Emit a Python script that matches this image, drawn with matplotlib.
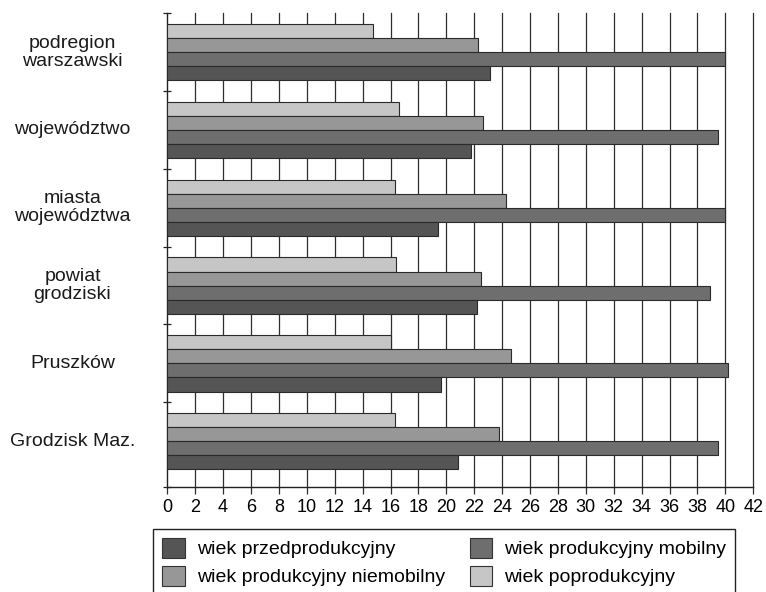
import matplotlib
matplotlib.use("Agg")
import matplotlib.pyplot as plt
import matplotlib.transforms as mtransforms
from matplotlib.patches import Patch
import numpy as np

plt.rcParams['font.family'] = ['Liberation Sans', 'DejaVu Sans']

categories = ["podregion\nwarszawski", "województwo", "miasta\nwojewództwa",
              "powiat\ngrodziski", "Pruszków", "Grodzisk Maz."]
series_names = ["wiek przedprodukcyjny", "wiek produkcyjny mobilny",
                "wiek produkcyjny niemobilny", "wiek poprodukcyjny"]
przedprodukcyjny = [23.1, 21.8, 19.4, 22.2, 19.6, 20.8]
produkcyjny_mobilny = [40.0, 39.5, 40.0, 38.9, 40.2, 39.5]
produkcyjny_niemobilny = [22.25, 22.6, 24.3, 22.5, 24.6, 23.8]
poprodukcyjny = [14.75, 16.6, 16.3, 16.4, 16.0, 16.3]
x_ticks = list(range(0, 43, 2))

colors = {
    "przed": "#555555",
    "mobil": "#6e6e6e",
    "niemob": "#979797",
    "popro": "#c6c6c6",
}

W, H = 766, 592
fig = plt.figure(figsize=(W / 100, H / 100), dpi=100)
ax = fig.add_axes([167.3 / W, 1 - 486.7 / H, (753.3 - 167.3) / W, (486.7 - 13.3) / H])

y = np.arange(len(categories))
h = 0.181
edge = dict(edgecolor="#2a2a2a", linewidth=0.8, zorder=3)
ax.barh(y - 1.5 * h, poprodukcyjny, height=h, color=colors["popro"], **edge)
ax.barh(y - 0.5 * h, produkcyjny_niemobilny, height=h, color=colors["niemob"], **edge)
ax.barh(y + 0.5 * h, produkcyjny_mobilny, height=h, color=colors["mobil"], **edge)
ax.barh(y + 1.5 * h, przedprodukcyjny, height=h, color=colors["przed"], **edge)

ax.set_xlim(0, 42)
ybottom = len(categories) - 0.5 + 0.085
ax.set_ylim(ybottom, -0.5)

# vertical grid
for xv in x_ticks[1:]:
    ax.axvline(xv, color="#2e2e2e", linewidth=0.9, zorder=1, clip_on=False)

ax.set_xticks(x_ticks)
ax.set_xticklabels([str(v) for v in x_ticks], fontsize=13)
ax.tick_params(axis="x", direction="out", length=4.8, width=0.9, color="#2e2e2e", pad=4)

ax.set_yticks(list(np.arange(-0.5, len(categories) - 0.5, 1.0)) + [ybottom])
ax.set_yticklabels([])
ax.tick_params(axis="y", direction="inout", length=6, width=0.9, color="#222222")

for s in ["top", "right"]:
    ax.spines[s].set_visible(False)
ax.spines["left"].set_linewidth(1.0)
ax.spines["bottom"].set_linewidth(1.0)
ax.spines["left"].set_color("#222222")
ax.spines["bottom"].set_color("#222222")

trans = mtransforms.blended_transform_factory(fig.transFigure, ax.transData)
for yi, lab in zip(y, categories):
    ax.text(72.5 / W, yi, lab, transform=trans, ha="center", va="center",
            fontsize=14, linespacing=1.1, color="#1a1a1a")

handles = [
    Patch(facecolor=colors["przed"], edgecolor="#333333", linewidth=0.8),
    Patch(facecolor=colors["niemob"], edgecolor="#333333", linewidth=0.8),
    Patch(facecolor=colors["mobil"], edgecolor="#333333", linewidth=0.8),
    Patch(facecolor=colors["popro"], edgecolor="#333333", linewidth=0.8),
]
labels = [series_names[0], series_names[2], series_names[1], series_names[3]]
leg = fig.legend(handles, labels, ncol=2, loc="upper left",
                 bbox_to_anchor=(153.3 / W, 1 - 529.3 / H), bbox_transform=fig.transFigure,
                 fontsize=14, handlelength=1.16, handleheight=1.18, handletextpad=0.63,
                 labelspacing=0.39, columnspacing=1.27, borderpad=0.45,
                 borderaxespad=0, fancybox=False, framealpha=1, edgecolor="#222222")
leg.get_frame().set_linewidth(1.0)

fig.savefig("out.png", dpi=100)
